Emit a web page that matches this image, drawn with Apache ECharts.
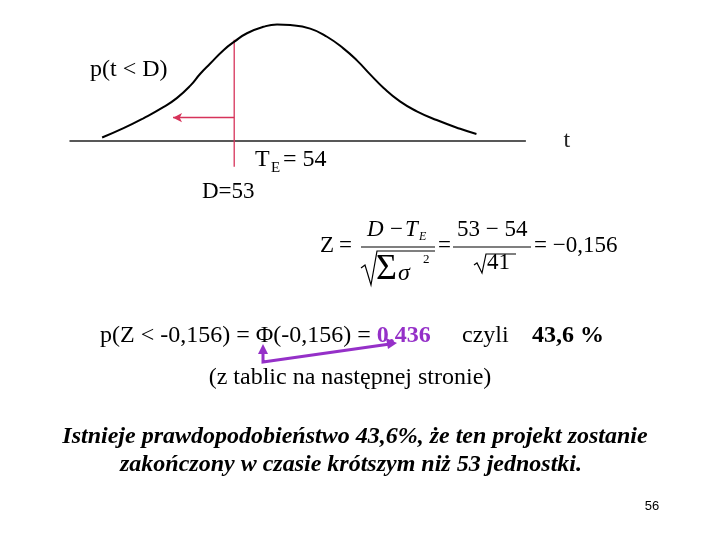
<!DOCTYPE html>
<html><head><meta charset="utf-8">
<script src="https://cdn.jsdelivr.net/npm/echarts@6/dist/echarts.min.js"></script>
<style>html,body{margin:0;padding:0;background:#fff}#c{width:720px;height:540px}</style>
</head><body><div id="c"></div>
<script>
// curve: t (time) vs relative density (peak = 1)
const tValues = [50.41, 50.83, 51.22, 51.61, 51.88, 52.14, 52.33, 52.53, 52.79, 53.01, 53.25, 53.57, 53.84, 54.10, 54.49, 54.82, 55.14, 55.41, 55.67, 55.93, 56.25, 56.58, 56.97, 57.43, 57.75];
const density = [0.03, 0.11, 0.195, 0.29, 0.37, 0.475, 0.575, 0.665, 0.78, 0.855, 0.925, 0.98, 1.00, 0.995, 0.965, 0.895, 0.795, 0.69, 0.57, 0.455, 0.34, 0.255, 0.18, 0.105, 0.06];
const D = 53;            // deadline
const TE = 54;           // expected time
const markerTop = 0.87;  // red marker top (density units)
const markerBottom = -0.22;
const arrowLevel = 0.2;
const arrowEnd = 51.8;

const serif = "'Liberation Serif','Times New Roman',serif";
const red = '#d6335a';
const purple = '#9530c8';

const chart = echarts.init(document.getElementById('c'));
const curve = tValues.map((t, i) => [t, density[i]]);

function txt(x, y, text, size, extra) {
  return {type: 'text', x: x, y: y, style: Object.assign({text: text, font: size + 'px ' + serif, fill: '#000', textVerticalAlign: 'middle'}, extra || {})};
}
function ln(x1, y1, x2, y2, w, c) {
  return {type: 'line', shape: {x1, y1, x2, y2}, style: {stroke: c || '#000', lineWidth: w || 1.2}};
}
function poly(points, w, c) {
  return {type: 'polyline', shape: {points}, style: {stroke: c || '#000', lineWidth: w || 1.2, fill: null}};
}

chart.setOption({
  animation: false,
  backgroundColor: '#fff',
  grid: {left: 70, right: 194.6, top: 18.68, bottom: 340.75},
  xAxis: {
    type: 'value', min: 49.78, max: 58.71,
    name: 't', nameLocation: 'end', nameGap: 38,
    nameTextStyle: {fontFamily: serif, fontSize: 24, color: '#222'},
    axisLine: {onZero: true, lineStyle: {color: '#222', width: 1.5}},
    axisTick: {show: false}, axisLabel: {show: false}, splitLine: {show: false}
  },
  yAxis: {type: 'value', min: -0.5, max: 1.05, show: false, splitLine: {show: false}},
  series: [
    {type: 'line', data: curve, smooth: 0.5, symbol: 'none', lineStyle: {color: '#000', width: 2}, z: 3},
    {type: 'line', data: [[D, markerBottom], [D, markerTop]], symbol: 'none', lineStyle: {color: red, width: 1.3}, z: 2,
      markLine: {silent: true, symbol: ['none', 'arrow'], symbolSize: [7, 9], label: {show: false},
        lineStyle: {color: red, width: 1.3, type: 'solid'},
        data: [[{coord: [D, arrowLevel]}, {coord: [arrowEnd, arrowLevel]}]]}}
  ],
  graphic: [
    txt(90, 70, 'p(t < D)', 24),
    txt(255, 160, 'T', 24),
    txt(271, 168, 'E', 15),
    txt(283, 160, '= 54', 24),
    txt(202, 192, 'D=53', 23),
    // formula
    txt(320, 246, 'Z', 23),
    txt(339, 246, '=', 23),
    txt(367, 230, 'D', 23, {font: 'italic 23px ' + serif}),
    txt(390, 230, '−', 23),
    txt(405, 230, 'T', 23, {font: 'italic 23px ' + serif}),
    txt(419, 237, 'E', 12, {font: 'italic 12px ' + serif}),
    ln(361, 247, 435, 247),
    poly([[361, 268], [365, 265], [371, 285], [377, 251], [435, 251]]),
    txt(376, 270, 'Σ', 36),
    txt(398, 274, 'σ', 24, {font: 'italic 24px ' + serif}),
    txt(423, 260, '2', 13),
    txt(438, 246, '=', 23),
    txt(457, 230, '53 − 54', 23),
    ln(453, 247, 531, 247),
    poly([[474, 265], [477, 263], [482, 273], [486, 254], [516, 254]]),
    txt(487, 263, '41', 23),
    txt(534, 246, '= −0,156', 23),
    // result row
    {type: 'text', x: 100, y: 336, style: {
      text: '{n|p(Z < -0,156) = Φ(-0,156) = }{p|0,436}',
      textVerticalAlign: 'middle',
      rich: {n: {fontFamily: serif, fontSize: 24, fill: '#000'}, p: {fontFamily: serif, fontSize: 24, fontWeight: 'bold', fill: purple}}
    }},
    txt(462, 336, 'czyli', 24),
    txt(532, 336, '43,6 %', 24, {font: 'bold 24px ' + serif}),
    poly([[263, 352], [263, 362], [390, 344]], 3, purple),
    {type: 'polygon', shape: {points: [[263, 344], [258, 354], [268, 354]]}, style: {fill: purple}},
    {type: 'polygon', shape: {points: [[397, 343], [386, 338], [388, 349]]}, style: {fill: purple}},
    txt(350, 378, '(z tablic na następnej stronie)', 24, {textAlign: 'center'}),
    txt(355, 437, 'Istnieje prawdopodobieństwo 43,6%, że ten projekt zostanie', 24, {textAlign: 'center', font: 'italic bold 24px ' + serif}),
    txt(351, 465, 'zakończony w czasie krótszym niż 53 jednostki.', 24, {textAlign: 'center', font: 'italic bold 24px ' + serif}),
    txt(652, 506, '56', 13, {textAlign: 'center', font: "13px 'Liberation Sans Narrow','Liberation Sans',sans-serif"})
  ]
});
</script></body></html>
